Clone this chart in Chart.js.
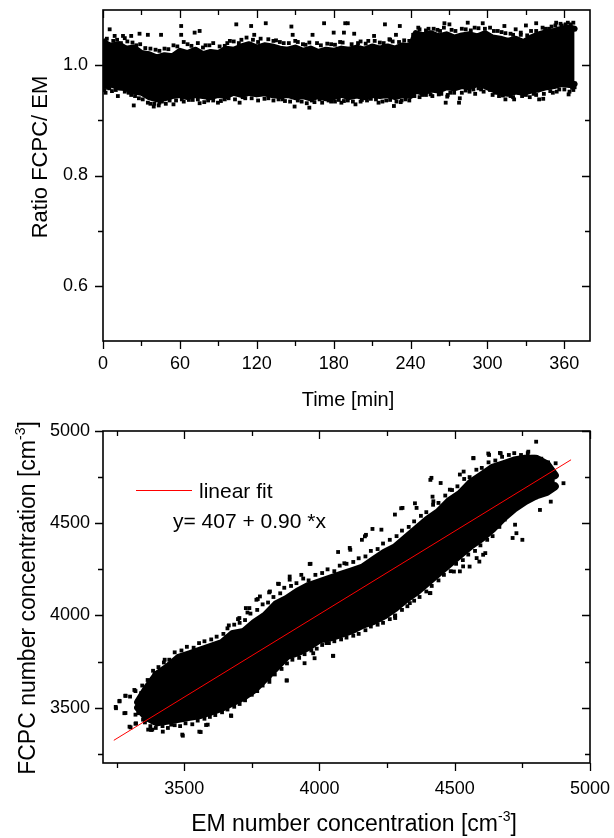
<!DOCTYPE html>
<html>
<head>
<meta charset="utf-8">
<script src="https://cdn.jsdelivr.net/npm/chart.js@4.4.0/dist/chart.umd.min.js"></script>
<style>
  html, body { margin: 0; padding: 0; background: #fff; }
  #quadro { position: relative; width: 614px; height: 838px; }
  canvas { position: absolute; left: 0; }
  #grafico-razao { top: 0; }
  #grafico-concentracao { top: 420px; }
</style>
</head>
<body>
<div id="quadro">
  <canvas id="grafico-razao" width="614" height="420"></canvas>
  <canvas id="grafico-concentracao" width="614" height="418"></canvas>
</div>
<script>
// painel de cima: razao FCPC/EM ao longo do tempo
// nucleo denso da nuvem (bordas)
const tempoFaixa = [0, 6, 12, 18, 24, 30, 36, 42, 48, 54, 60, 66, 72, 78, 84, 90, 96, 102, 108, 114, 120, 126, 132, 138, 144, 150, 156, 162, 168, 174, 180, 186, 192, 198, 204, 210, 216, 222, 228, 234, 240, 244, 250, 256, 262, 268, 274, 280, 286, 292, 298, 304, 310, 316, 322, 328, 334, 340, 346, 352, 358, 364, 368];
const razaoFaixaSup = [1.042, 1.035, 1.038, 1.030, 1.032, 1.022, 1.020, 1.014, 1.018, 1.016, 1.026, 1.022, 1.028, 1.020, 1.024, 1.022, 1.030, 1.028, 1.034, 1.038, 1.032, 1.036, 1.034, 1.030, 1.028, 1.032, 1.026, 1.030, 1.024, 1.028, 1.026, 1.030, 1.028, 1.032, 1.028, 1.034, 1.030, 1.034, 1.030, 1.036, 1.034, 1.058, 1.054, 1.058, 1.052, 1.056, 1.050, 1.054, 1.056, 1.052, 1.058, 1.050, 1.048, 1.044, 1.048, 1.042, 1.050, 1.056, 1.060, 1.062, 1.066, 1.068, 1.066];
const razaoFaixaInf = [0.962, 0.965, 0.960, 0.958, 0.952, 0.950, 0.942, 0.938, 0.940, 0.944, 0.946, 0.942, 0.946, 0.944, 0.942, 0.946, 0.944, 0.950, 0.946, 0.950, 0.947, 0.949, 0.946, 0.944, 0.946, 0.942, 0.944, 0.940, 0.944, 0.940, 0.942, 0.946, 0.942, 0.945, 0.942, 0.946, 0.944, 0.946, 0.942, 0.946, 0.944, 0.954, 0.950, 0.956, 0.954, 0.960, 0.958, 0.962, 0.960, 0.966, 0.962, 0.956, 0.950, 0.948, 0.952, 0.950, 0.954, 0.956, 0.960, 0.962, 0.966, 0.964, 0.966];

// pontos soltos e franja em volta da nuvem
const tempoPontos = [
  5.2, 9.1, 15.6, 22, 28.5, 35, 45.3, 61, 61, 71.5, 75.4, 104, 115.6, 118, 127, 147, 148, 163.5, 172.5, 180,
  189, 191, 220, 231.6, 188, 196, 211.5, 223.5, 228.6, 243, 266.4, 270.3, 284.6, 296.3, 313.2, 330, 338, 353.6, 362.7, 322, 326,
  11.6, 24, 39.6, 43.5, 55, 61.5, 75.4, 89.7, 106.6, 119.6, 149.5, 161, 169, 3.9, 16.9, 188, 197, 215, 227, 232.3,
  255.6, 267.4, 268.6, 277.8, 278.4, 290.4, 298.8, 320.8, 324.7, 340.3, 343.5, 363.3, 366, 366,
  2, 8, 14, 19, 26, 33, 41, 48, 55, 66, 80, 86, 95, 99, 108, 123, 135, 141, 152, 158, 167, 178, 185, 199, 207, 216, 226, 235,
  247, 252, 258, 263, 272, 280, 287, 293, 305, 311, 318, 334, 345, 350, 358, 365,
  1, 7, 20, 28, 35, 46, 52, 67, 82, 95, 111, 126, 137, 142, 155, 165, 178, 184, 202, 209, 224, 236,
  249, 262, 271, 283, 295, 306, 312, 318, 330, 336, 349, 356, 368,
  3, 11, 17, 23, 29, 37, 44, 51, 58, 63, 69, 74, 78, 83, 91, 97, 102, 106, 112, 117, 121, 129, 133, 138, 145, 150, 156, 161,
  170, 175, 181, 187, 194, 201, 205, 212, 219, 224, 231, 239, 242, 246, 254, 261, 266, 275, 283, 290, 298, 302, 308, 314,
  320, 326, 331, 338, 343, 348, 353, 357, 361, 367,
  2, 5, 10, 13, 17, 22, 25, 31, 37, 40, 44, 49, 57, 63, 70, 74, 79, 86, 92, 98, 103, 109, 116, 121, 129, 133, 140, 146,
  152, 159, 163, 171, 176, 181, 186, 191, 195, 201, 206, 213, 218, 221, 229, 233, 239, 243, 247, 252, 257, 264, 269, 274,
  280, 286, 289, 293, 297, 302, 304, 309, 314, 320, 327, 333, 338, 344, 351, 354, 360, 364, 367
];
const razaoPontos = [
  1.065, 1.053, 1.053, 1.053, 1.057, 1.055, 1.055, 1.071, 1.055, 1.059, 1.062, 1.074, 1.071, 1.055, 1.076, 1.070, 1.055, 1.055, 1.076, 1.059,
  1.076, 1.076, 1.074, 1.071, 1.059, 1.057, 1.053, 1.047, 1.055, 1.047, 1.076, 1.074, 1.077, 1.076, 1.071, 1.072, 1.076, 1.077, 1.077, 1.065, 1.055,
  0.944, 0.927, 0.925, 0.927, 0.929, 0.938, 0.931, 0.932, 0.932, 0.947, 0.925, 0.923, 0.938, 0.959, 0.959, 0.935, 0.929, 0.932, 0.926, 0.933,
  0.947, 0.932, 0.943, 0.932, 0.940, 0.948, 0.963, 0.938, 0.950, 0.938, 0.939, 0.947, 0.959, 0.969,
  1.045, 1.044, 1.040, 1.043, 1.036, 1.031, 1.028, 1.030, 1.036, 1.038, 1.036, 1.040, 1.035, 1.044, 1.046, 1.048, 1.045, 1.040, 1.042, 1.037, 1.040, 1.038, 1.042, 1.040, 1.044, 1.041, 1.043, 1.045,
  1.065, 1.063, 1.066, 1.062, 1.064, 1.066, 1.063, 1.067, 1.062, 1.060, 1.057, 1.062, 1.066, 1.070, 1.072, 1.074,
  0.955, 0.953, 0.950, 0.940, 0.932, 0.934, 0.936, 0.937, 0.936, 0.938, 0.940, 0.939, 0.938, 0.935, 0.934, 0.933, 0.934, 0.937, 0.937, 0.939, 0.937, 0.938,
  0.946, 0.947, 0.950, 0.954, 0.956, 0.950, 0.945, 0.944, 0.946, 0.948, 0.953, 0.956, 0.960,
  1.048, 1.046, 1.049, 1.041, 1.038, 1.030, 1.026, 1.029, 1.034, 1.042, 1.035, 1.040, 1.032, 1.036, 1.034, 1.040, 1.043, 1.040, 1.050, 1.046, 1.042, 1.047, 1.044, 1.042, 1.040, 1.044, 1.038, 1.041,
  1.036, 1.039, 1.037, 1.041, 1.038, 1.043, 1.039, 1.044, 1.040, 1.046, 1.042, 1.044, 1.055, 1.068, 1.066, 1.064, 1.068, 1.062, 1.065, 1.068, 1.066, 1.068, 1.062, 1.058,
  1.055, 1.059, 1.054, 1.062, 1.068, 1.066, 1.072, 1.075, 1.074, 1.077,
  0.950, 0.958, 0.955, 0.958, 0.952, 0.946, 0.944, 0.938, 0.930, 0.930, 0.932, 0.930, 0.936, 0.934, 0.937, 0.938, 0.933, 0.936, 0.935, 0.940, 0.938, 0.942, 0.940, 0.936, 0.940, 0.936, 0.938, 0.934,
  0.936, 0.931, 0.936, 0.932, 0.936, 0.934, 0.932, 0.936, 0.934, 0.934, 0.936, 0.938, 0.934, 0.936, 0.934, 0.936, 0.936, 0.944, 0.942, 0.946, 0.944, 0.948, 0.946, 0.950,
  0.950, 0.952, 0.956, 0.958, 0.952, 0.955, 0.946, 0.944, 0.938, 0.942, 0.944, 0.942, 0.946, 0.948, 0.950, 0.952, 0.956, 0.952, 0.955
];

const rotulosTempo = [0, 60, 120, 180, 240, 300, 360];
const menoresTempo = [30, 90, 150, 210, 270, 330];
const rotulosRazao = [0.6, 0.8, 1.0];
const menoresRazao = [0.7, 0.9];

// painel de baixo: FCPC x EM
const emFaixa = [3330, 3360, 3400, 3440, 3480, 3520, 3560, 3600, 3640, 3680, 3720, 3760, 3800, 3840, 3880, 3920, 3960, 4000, 4040, 4080, 4120, 4160, 4200, 4240, 4280, 4320, 4360, 4400, 4440, 4480, 4520, 4560, 4600, 4640, 4680, 4720, 4760, 4800, 4840, 4870];
const fcpcFaixaSup = [3530, 3600, 3680, 3720, 3770, 3790, 3810, 3830, 3850, 3900, 3910, 3960, 4000, 4060, 4090, 4130, 4160, 4180, 4200, 4220, 4240, 4260, 4300, 4340, 4370, 4420, 4470, 4520, 4560, 4620, 4660, 4720, 4760, 4800, 4820, 4840, 4850, 4850, 4820, 4760];
const fcpcFaixaInf = [3500, 3450, 3420, 3430, 3440, 3450, 3460, 3480, 3500, 3530, 3560, 3600, 3660, 3720, 3780, 3800, 3830, 3870, 3880, 3900, 3920, 3950, 3970, 4000, 4040, 4090, 4130, 4180, 4230, 4280, 4330, 4380, 4420, 4470, 4530, 4580, 4620, 4650, 4670, 4700];

const emPontos = [
  3247, 3261, 3283, 3283, 3302, 3320, 3320, 3341, 3348, 3367, 3382, 3392, 3428, 3452, 3493, 3561, 3587, 3673, 3702, 3699,
  3734, 3767, 3814, 3850, 3879, 3890, 3933, 3967, 3977, 4049, 4052, 4092, 4114, 4157, 4172, 4280, 4302, 4309, 4353, 4389,
  4410, 4418, 4410, 4497, 4533, 4569, 4591, 4627, 4670, 4714, 4750, 4772, 4801, 4815, 4837, 4855, 4873, 4902, 4728, 4684,
  4613, 4555, 4526,
  3248, 3261, 3283, 3316, 3279, 3298, 3322, 3378, 3421, 3495, 3556, 3581, 3674, 3390, 3433, 3665, 3704, 3741, 3772, 3879,
  3945, 3982, 4050, 3815, 3766,
  3964, 3890, 3847, 4069, 4112, 4168, 4196, 4229, 4279, 4307, 4359, 4414, 4421, 4448, 4482, 4519, 4569, 4624, 4667, 4408,
  4334, 4279, 4174, 4106, 4026, 3977, 4051, 4519, 4531, 4581, 4605, 4714, 4723, 3728, 3780, 3817,
  3300, 3320, 3345, 3365, 3385, 3405, 3425, 3445, 3465, 3490, 3510, 3535, 3555, 3575, 3600, 3620, 3645, 3660, 3685, 3705,
  3725, 3745, 3770, 3790, 3810, 3830, 3855, 3870, 3895, 3915, 3940, 3960, 3985, 4010, 4030, 4055, 4075, 4100, 4125, 4145,
  4170, 4190, 4215, 4235, 4260, 4285, 4305, 4330, 4350, 4375, 4395, 4420, 4440, 4465, 4490, 4510, 4535, 4555, 4580, 4600,
  4625, 4650, 4675, 4700, 4720, 4745, 4770, 4790, 4820, 4845, 4860,
  3330, 3355, 3375, 3395, 3420, 3440, 3465, 3485, 3505, 3530, 3550, 3575, 3595, 3615, 3640, 3660, 3685, 3705, 3725, 3750,
  3770, 3790, 3815, 3835, 3860, 3880, 3900, 3925, 3945, 3970, 3990, 4010, 4035, 4055, 4080, 4100, 4125, 4145, 4170, 4190,
  4215, 4235, 4260, 4280, 4305, 4325, 4350, 4370, 4395, 4415, 4440, 4460, 4485, 4505, 4530, 4550, 4575, 4595, 4620, 4640,
  4665, 4685, 4710, 4730, 4755, 4775, 4800, 4820, 4845
];
const fcpcPontos = [
  3504, 3534, 3565, 3471, 3393, 3413, 3462, 3579, 3435, 3381, 3381, 3688, 3760, 3408, 3354, 3368, 3408, 3458, 3597, 3980,
  4016, 4085, 4125, 4171, 3648, 4211, 4220, 4280, 3856, 3874, 4013, 4283, 4356, 4410, 4437, 3986, 4581, 4193, 4608, 4238,
  4735, 4644, 4121, 4238, 4780, 4852, 4292, 4870, 4879, 4825, 4410, 4888, 4942, 4572, 4689, 4617, 4825, 4717, 4446, 4536,
  4338, 4265, 4374,
  3497, 3537, 3564, 3596, 3470, 3397, 3415, 3379, 3370, 3348, 3370, 3406, 3455, 3678, 3705, 3946, 3986, 4040, 4089, 3647,
  3741, 3768, 3781, 3660, 3596,
  4279, 4194, 4172, 4344, 4366, 4429, 4469, 4465, 4547, 4583, 4583, 4746, 4619, 4718, 4682, 4764, 4854, 4878, 4881, 4121,
  4067, 3995, 4049, 3908, 3850, 3795, 3781, 4239, 4266, 4311, 4329, 4420, 4492, 4040, 4103, 4130,
  3560, 3590, 3620, 3650, 3700, 3720, 3745, 3760, 3800, 3810, 3830, 3825, 3850, 3860, 3870, 3885, 3900, 3930, 3950, 3960,
  3975, 4010, 4030, 4060, 4070, 4100, 4120, 4150, 4160, 4175, 4200, 4190, 4220, 4230, 4250, 4240, 4270, 4280, 4290, 4310,
  4320, 4350, 4360, 4390, 4410, 4430, 4460, 4480, 4510, 4540, 4560, 4600, 4610, 4650, 4680, 4700, 4740, 4750, 4790, 4800,
  4830, 4840, 4860, 4870, 4880, 4870, 4880, 4860, 4850, 4830, 4790,
  3470, 3420, 3400, 3390, 3400, 3390, 3405, 3400, 3415, 3410, 3430, 3440, 3450, 3460, 3475, 3490, 3505, 3520, 3540, 3570,
  3590, 3620, 3640, 3680, 3710, 3740, 3760, 3770, 3790, 3810, 3820, 3840, 3850, 3860, 3870, 3880, 3890, 3900, 3920, 3940,
  3950, 3960, 3980, 4000, 4030, 4050, 4080, 4100, 4130, 4160, 4190, 4220, 4240, 4280, 4300, 4330, 4350, 4380, 4410, 4430,
  4480, 4520, 4560, 4590, 4610, 4630, 4640, 4660, 4690
];

// reta de ajuste, extremos
const emAjuste = [3240, 4930];
const fcpcAjuste = [3323, 4844];

const rotulosEM = [3500, 4000, 4500, 5000];
const menoresEM = [3250, 3750, 4250, 4750];
const rotulosFCPC = [3500, 4000, 4500, 5000];
const menoresFCPC = [3250, 3750, 4250, 4750];

const fonte = '"Liberation Sans", Arial, sans-serif';

function pares(xs, ys) {
  return xs.map((v, i) => ({ x: v, y: ys[i] }));
}

// moldura com tiques no estilo Origin: fora embaixo/esquerda, dentro em cima/direita
const molduraOrigin = {
  id: 'molduraOrigin',
  afterDraw(chart, args, opts) {
    const { ctx, chartArea: a, scales } = chart;
    const sx = scales.x;
    const sy = scales.y;
    ctx.save();
    ctx.strokeStyle = '#000';
    ctx.lineWidth = 1.6;
    ctx.strokeRect(a.left, a.top, a.right - a.left, a.bottom - a.top);
    ctx.lineWidth = 1.3;
    ctx.beginPath();
    const tiqueX = (v, tam) => {
      const p = Math.round(sx.getPixelForValue(v)) + 0.5;
      ctx.moveTo(p, a.bottom);
      ctx.lineTo(p, a.bottom + tam);
      ctx.moveTo(p, a.top);
      ctx.lineTo(p, a.top + tam);
    };
    const tiqueY = (v, tam) => {
      const p = Math.round(sy.getPixelForValue(v)) + 0.5;
      ctx.moveTo(a.left, p);
      ctx.lineTo(a.left - tam, p);
      ctx.moveTo(a.right, p);
      ctx.lineTo(a.right - tam, p);
    };
    opts.xMaior.forEach((v) => tiqueX(v, 8));
    opts.xMenor.forEach((v) => tiqueX(v, 5));
    opts.yMaior.forEach((v) => tiqueY(v, 8));
    opts.yMenor.forEach((v) => tiqueY(v, 5));
    ctx.stroke();
    ctx.restore();
  },
};

// titulos dos eixos e legenda, com expoente quando precisa
function textoExpoente(ctx, partes, cx, cy, tam, rot) {
  ctx.save();
  ctx.translate(cx, cy);
  ctx.rotate(rot);
  ctx.fillStyle = '#000';
  ctx.textBaseline = 'alphabetic';
  ctx.textAlign = 'left';
  let larg = 0;
  partes.forEach((p) => {
    ctx.font = `${p.sup ? Math.round(tam * 0.6) : tam}px ${fonte}`;
    p.w = ctx.measureText(p.t).width;
    larg += p.w;
  });
  let x0 = -larg / 2;
  partes.forEach((p) => {
    ctx.font = `${p.sup ? Math.round(tam * 0.6) : tam}px ${fonte}`;
    ctx.fillText(p.t, x0, p.sup ? -tam * 0.42 : 0);
    x0 += p.w;
  });
  ctx.restore();
}

const titulosEixos = {
  id: 'titulosEixos',
  afterDraw(chart, args, opts) {
    const ctx = chart.ctx;
    opts.textos.forEach((t) => textoExpoente(ctx, t.partes, t.x, t.y, t.tam, t.rot));
    if (opts.legenda) {
      const l = opts.legenda;
      ctx.save();
      ctx.strokeStyle = '#ff0000';
      ctx.lineWidth = 1;
      ctx.beginPath();
      ctx.moveTo(l.x0, l.y + 0.5);
      ctx.lineTo(l.x1, l.y + 0.5);
      ctx.stroke();
      ctx.fillStyle = '#000';
      ctx.font = `${l.tam}px ${fonte}`;
      ctx.textBaseline = 'alphabetic';
      ctx.fillText(l.rotulo, l.xTexto, l.yRotulo);
      ctx.fillText(l.equacao, l.xEquacao, l.yEquacao);
      ctx.restore();
    }
  },
};

function escalas(cfg) {
  return {
    x: {
      type: 'linear',
      min: cfg.xMin,
      max: cfg.xMax,
      grid: { display: false, drawTicks: false },
      border: { display: false },
      afterBuildTicks: (s) => { s.ticks = cfg.xRotulos.map((v) => ({ value: v })); },
      afterFit: (s) => {
        s.height = cfg.alturaX;
        s.paddingLeft = 0;
        s.paddingRight = 0;
      },
      ticks: {
        color: '#000',
        font: { family: fonte, size: 18 },
        padding: cfg.padX,
        maxRotation: 0,
        autoSkip: false,
        callback: cfg.fmtX,
      },
    },
    y: {
      type: 'linear',
      min: cfg.yMin,
      max: cfg.yMax,
      grid: { display: false, drawTicks: false },
      border: { display: false },
      afterBuildTicks: (s) => { s.ticks = cfg.yRotulos.map((v) => ({ value: v })); },
      afterFit: (s) => {
        s.width = 103;
        s.paddingTop = 0;
        s.paddingBottom = 0;
      },
      ticks: {
        color: '#000',
        font: { family: fonte, size: 18 },
        padding: cfg.padY,
        autoSkip: false,
        callback: cfg.fmtY,
      },
    },
  };
}

// contorno grosso e arredondado para juntar o nucleo com a franja de pontos
function faixa(xs, sup, inf, espessura) {
  const base = {
    type: 'line',
    borderColor: '#000',
    borderWidth: espessura,
    borderJoinStyle: 'round',
    borderCapStyle: 'round',
    pointRadius: 0,
    tension: 0,
    order: 2,
  };
  return [
    { ...base, label: 'faixa sup', data: pares(xs, sup), backgroundColor: '#000', fill: '+1' },
    { ...base, label: 'faixa inf', data: pares(xs, inf), fill: false },
  ];
}

new Chart(document.getElementById('grafico-razao'), {
  type: 'scatter',
  data: {
    datasets: [
      {
        label: 'Ratio',
        data: pares(tempoPontos, razaoPontos),
        pointStyle: 'rect',
        pointRadius: 2.7,
        backgroundColor: '#000',
        borderWidth: 0,
        order: 1,
      },
      ...faixa(tempoFaixa, razaoFaixaSup, razaoFaixaInf, 6),
    ],
  },
  options: {
    responsive: false,
    animation: false,
    layout: { padding: { top: 10, right: 24, left: 0, bottom: 0 } },
    scales: escalas({
      xMin: 0, xMax: 380, yMin: 0.5, yMax: 1.1,
      xRotulos: rotulosTempo, yRotulos: rotulosRazao,
      alturaX: 79, padX: 12, padY: 15,
      fmtX: (v) => String(v),
      fmtY: (v) => v.toFixed(1),
    }),
    plugins: {
      legend: { display: false },
      tooltip: { enabled: false },
      molduraOrigin: { xMaior: rotulosTempo, xMenor: menoresTempo, yMaior: rotulosRazao, yMenor: menoresRazao },
      titulosEixos: {
        textos: [
          { partes: [{ t: 'Time [min]' }], x: 348, y: 406, tam: 20, rot: 0 },
          { partes: [{ t: 'Ratio FCPC/ EM' }], x: 47, y: 157, tam: 22, rot: -Math.PI / 2 },
        ],
      },
    },
  },
  plugins: [molduraOrigin, titulosEixos],
});

new Chart(document.getElementById('grafico-concentracao'), {
  type: 'scatter',
  data: {
    datasets: [
      {
        type: 'line',
        label: 'linear fit',
        data: pares(emAjuste, fcpcAjuste),
        borderColor: '#ff0000',
        borderWidth: 1,
        pointRadius: 0,
        fill: false,
        order: 0,
      },
      {
        label: 'FCPC',
        data: pares(emPontos, fcpcPontos),
        pointStyle: 'rect',
        pointRadius: 2.7,
        backgroundColor: '#000',
        borderWidth: 0,
        order: 1,
      },
      ...faixa(emFaixa, fcpcFaixaSup, fcpcFaixaInf, 8),
    ],
  },
  options: {
    responsive: false,
    animation: false,
    layout: { padding: { top: 11, right: 24, left: 0, bottom: 0 } },
    scales: escalas({
      xMin: 3200, xMax: 5000, yMin: 3200, yMax: 5000,
      xRotulos: rotulosEM, yRotulos: rotulosFCPC,
      alturaX: 75, padX: 15, padY: 13,
      fmtX: (v) => String(v),
      fmtY: (v) => String(v),
    }),
    plugins: {
      legend: { display: false },
      tooltip: { enabled: false },
      molduraOrigin: { xMaior: rotulosEM, xMenor: menoresEM, yMaior: rotulosFCPC, yMenor: menoresFCPC },
      titulosEixos: {
        textos: [
          { partes: [{ t: 'EM number concentration [cm' }, { t: '-3', sup: true }, { t: ']' }], x: 354, y: 411, tam: 23, rot: 0 },
          { partes: [{ t: 'FCPC number concentration [cm' }, { t: '-3', sup: true }, { t: ']' }], x: 35, y: 178, tam: 23, rot: -Math.PI / 2 },
        ],
        legenda: {
          x0: 136, x1: 192, y: 70, tam: 21,
          rotulo: 'linear fit', xTexto: 199, yRotulo: 78,
          equacao: 'y= 407 + 0.90 *x', xEquacao: 173, yEquacao: 108,
        },
      },
    },
  },
  plugins: [molduraOrigin, titulosEixos],
});
</script>
</body>
</html>
